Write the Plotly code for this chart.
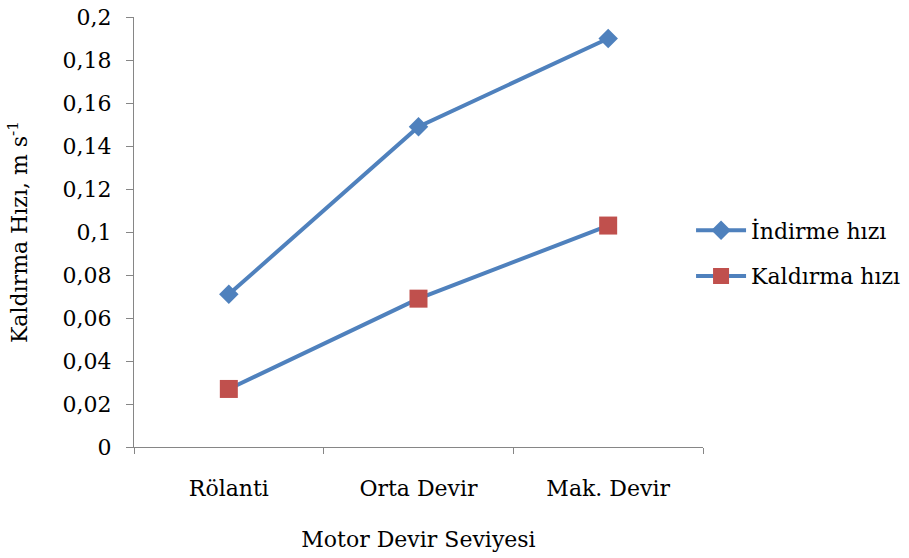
import plotly.graph_objects as go

# Engine speed levels and the measured lowering / lifting speeds (m/s)
categories = ["Rölanti", "Orta Devir", "Mak. Devir"]
indirme_hizi = [0.071, 0.149, 0.190]
kaldirma_hizi = [0.027, 0.069, 0.103]

BLUE = "#4F81BD"
RED = "#C0504D"
AXIS = "#868686"
FONT = "DejaVu Serif"
SIZE = 22

fig = go.Figure()
fig.add_trace(go.Scatter(
    x=categories, y=indirme_hizi, name="İndirme hızı",
    mode="lines+markers", legendgroup="a",
    line=dict(color=BLUE, width=4),
    marker=dict(symbol="diamond", size=15, color=BLUE),
))
fig.add_trace(go.Scatter(
    x=categories, y=kaldirma_hizi, name="Kaldırma hızı",
    mode="lines+markers", legendgroup="b",
    line=dict(color=BLUE, width=4),
    marker=dict(symbol="square", size=18, color=RED),
))

fig.update_layout(
    template="none",
    width=909, height=558,
    margin=dict(l=134, r=206, t=17, b=111, autoexpand=False),
    paper_bgcolor="white", plot_bgcolor="white",
    separators=",.",
    font=dict(family=FONT, size=SIZE, color="black"),
    showlegend=True,
    legend=dict(
        x=0.979, xanchor="left", y=0.45, yanchor="middle",
        itemwidth=50, tracegroupgap=14, traceorder="grouped",
        font=dict(family=FONT, size=SIZE, color="black"),
        bgcolor="rgba(0,0,0,0)",
    ),
)

fig.update_xaxes(
    type="category", range=[-0.5, 2.5], automargin=False,
    tickson="boundaries", ticks="outside", ticklen=6, tickcolor=AXIS,
    ticklabelstandoff=22,
    tickfont=dict(family=FONT, size=SIZE, color="black"),
    showline=True, linecolor=AXIS, linewidth=1,
    showgrid=False, zeroline=False,
    title=dict(text="Motor Devir Seviyesi", standoff=31,
               font=dict(family=FONT, size=SIZE, color="black")),
)
fig.update_yaxes(
    range=[0, 0.2], dtick=0.02, tick0=0, automargin=False,
    ticks="outside", ticklen=7, tickcolor=AXIS,
    ticklabelstandoff=10,
    tickfont=dict(family=FONT, size=SIZE, color="black"),
    showline=True, linecolor=AXIS, linewidth=1,
    showgrid=False, zeroline=False,
    title=dict(text="Kaldırma Hızı, m s<sup>-1</sup>", standoff=28,
               font=dict(family=FONT, size=SIZE, color="black")),
)

fig.write_html("out.html")
